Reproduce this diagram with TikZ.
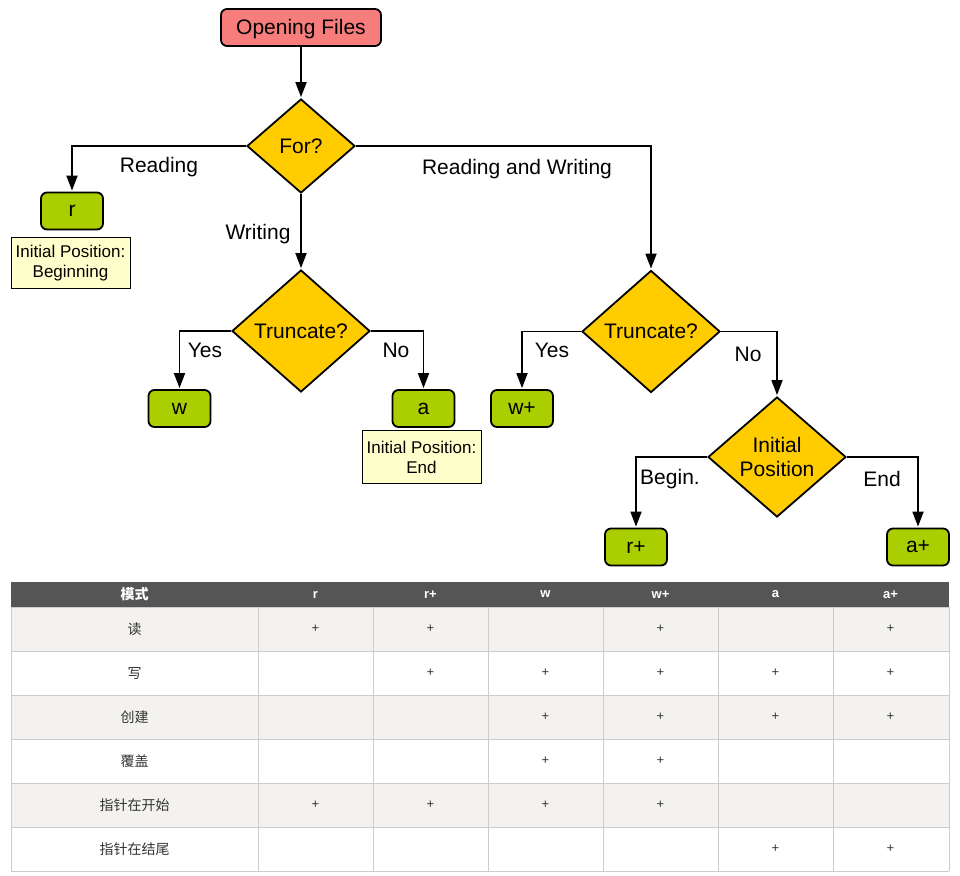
\documentclass[tikz,border=0pt]{standalone}
\usepackage{fontspec}
\setmainfont{Liberation Sans}
\newfontfamily\cjk{Noto Sans CJK SC}
\usetikzlibrary{shapes.geometric,arrows.meta}
\definecolor{startred}{RGB}{247,124,124}
\definecolor{decgold}{RGB}{255,204,0}
\definecolor{leafgreen}{RGB}{170,206,0}
\definecolor{notebg}{RGB}{255,255,204}
\definecolor{hdrgray}{RGB}{85,85,85}
\definecolor{rowshade}{RGB}{243,242,238}
\definecolor{gridgray}{RGB}{204,204,204}
\begin{document}
\begin{tikzpicture}[x=1pt,y=-1pt,
 startbox/.style={draw, line width=1.8pt, rounded corners=6pt, fill=startred, minimum width=160pt, minimum height=37pt, font=\fontsize{21}{24}\selectfont, inner sep=0, text height=15pt, text depth=0pt},
 decision/.style={diamond, draw, line width=1.8pt, fill=decgold, inner sep=0, font=\fontsize{21}{24}\selectfont, align=center},
 leaf/.style={draw, line width=1.8pt, rounded corners=6pt, fill=leafgreen, minimum width=62pt, minimum height=37pt, font=\fontsize{21}{24}\selectfont, inner sep=0},
 notebox/.style={draw, line width=0.8pt, fill=notebg, minimum width=119pt, minimum height=51pt, font=\fontsize{17}{20}\selectfont, align=center, inner sep=0},
 lbl/.style={font=\fontsize{21}{24}\selectfont, inner sep=0, yshift=-2.5pt},
 arr/.style={line width=1.8pt, -{Triangle[length=15pt,width=11pt]}, shorten >=1pt},
 hdr/.style={text=white, font=\fontsize{13}{15}\selectfont\bfseries, inner sep=0},
 hdrcjk/.style={text=white, font=\fontsize{14}{16}\selectfont\cjk\bfseries, inner sep=0},
 rowlbl/.style={font=\fontsize{14}{16}\selectfont\cjk, text=black!80, inner sep=0},
 plusmark/.style={font=\fontsize{13}{15}\selectfont, text=black!80, inner sep=0},
 ]
\useasboundingbox (0,0) rectangle (960,875);

% ---------- flowchart ----------
\node[startbox] (open) at (301,27.5) {Opening Files};
\node[decision, minimum width=108pt, minimum height=94pt] (for) at (301,146) {For?};
\node[leaf] (r) at (72,211) {r};
\node[notebox] (noteR) at (70.5,263) {Initial Position:\\Beginning};
\node[decision, minimum width=138pt, minimum height=122pt] (trA) at (301,331) {Truncate?};
\node[decision, minimum width=138pt, minimum height=122pt] (trB) at (651,331.5) {Truncate?};
\node[leaf] (w) at (179.5,408.5) {w};
\node[leaf] (a) at (423.5,408.5) {a};
\node[notebox, minimum height=53pt] (noteA) at (421.5,457) {Initial Position:\\End};
\node[leaf] (wp) at (522,408.5) {w+};
\node[decision, minimum width=138pt, minimum height=120pt] (pos) at (777,457) {Initial\\Position};
\node[leaf] (rp) at (636,547) {r+};
\node[leaf] (ap) at (918,547) {a+};

\draw[arr] (open) -- (for);
\draw[arr] (for.west) -| (r.north);
\draw[arr] (for.south) -- (trA.north);
\draw[arr] (for.east) -| (trB.north);
\draw[arr] (trA.west) -| (w.north);
\draw[arr] (trA.east) -| (a.north);
\draw[arr] (trB.west) -| (wp.north);
\draw[arr] (trB.east) -| (pos.north);
\draw[arr] (pos.west) -| (rp.north);
\draw[arr] (pos.east) -| (ap.north);

\node[lbl] (lRead) at (159,165) {Reading};
\node[lbl] (lWrite) at (258,232) {Writing};
\node[lbl] (lRW) at (517,167) {Reading and Writing};
\node[lbl] (lYesA) at (205,348) {Yes};
\node[lbl] (lNoA) at (396,348) {No};
\node[lbl] (lYesB) at (552,348) {Yes};
\node[lbl] (lNoB) at (748,352) {No};
\node[lbl] (lBegin) at (670,477) {Begin.};
\node[lbl] (lEnd) at (882,476) {End};

% ---------- table ----------
\fill[hdrgray] (11,582) rectangle (949,607);
\foreach \i in {0,2,4} {
  \fill[rowshade] (11,{607+44*\i}) rectangle (949,{651+44*\i});
}
\foreach \i in {0,...,6} {
  \draw[gridgray, line width=1pt] (11,{607+44*\i}) -- (949,{607+44*\i});
}
\foreach \xx in {11,258,373,488,603,718,833,949} {
  \draw[gridgray, line width=1pt] (\xx,607) -- (\xx,871);
}
\node[hdrcjk] (hMode) at (134.5,594.5) {模式};
\foreach \t [count=\c] in {r,r+,w,w+,a,a+} {
  \node[hdr] (h\c) at ({315.5+115*(\c-1)},594.5) {\t};
}
\foreach \t [count=\i from 0] in {读,写,创建,覆盖,指针在开始,指针在结尾} {
  \node[rowlbl] (row\i) at (134.5,{629+44*\i}) {\t};
}
\foreach \rr/\cc in {0/1,0/2,0/4,0/6,
                     1/2,1/3,1/4,1/5,1/6,
                     2/3,2/4,2/5,2/6,
                     3/3,3/4,
                     4/1,4/2,4/3,4/4,
                     5/5,5/6} {
  \node[plusmark] (p\rr-\cc) at ({315.5+115*(\cc-1)},{629+44*\rr}) {+};
}
\end{tikzpicture}
\end{document}
